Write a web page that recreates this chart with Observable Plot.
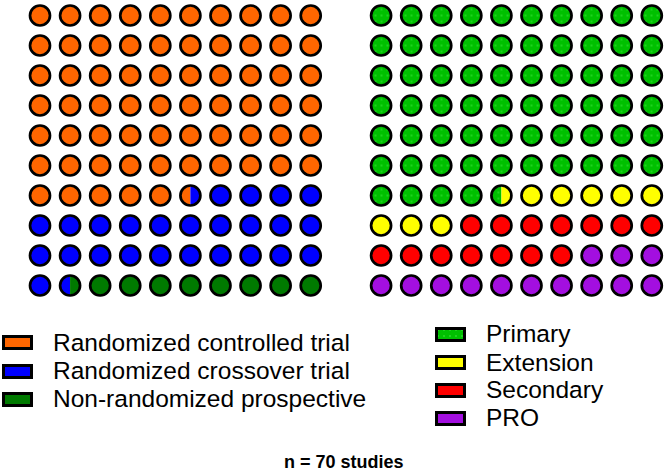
<!DOCTYPE html>
<html><head><meta charset="utf-8">
<script src="https://cdn.jsdelivr.net/npm/d3@7"></script>
<script src="https://cdn.jsdelivr.net/npm/@observablehq/plot@0.6"></script>
<style>
body{margin:0;background:#fff;font-family:"Liberation Sans",Arial,sans-serif;}
#wrap{position:relative;width:666px;height:470px;overflow:hidden;}
#chart{position:absolute;left:0;top:0;}
.sw{position:absolute;box-sizing:border-box;border:3px solid #000;}
.lt{position:absolute;font-size:24.5px;line-height:28px;color:#000;white-space:nowrap;}
#cap{position:absolute;font-weight:bold;font-size:18px;line-height:20px;color:#000;white-space:nowrap;}
</style></head>
<body><div id="wrap"><div id="chart"></div></div>
<script>
// ---- data (percent of 100 waffle cells) ----
const designCategories = ["Randomized controlled trial", "Randomized crossover trial", "Non-randomized prospective"];
const designValues = [65.5, 26, 8.5];
const outcomeCategories = ["Primary", "Extension", "Secondary", "PRO"];
const outcomeValues = [64.5, 8.5, 14, 13];
const captionText = "n = 70 studies";

// ---- styles ----
const designColors = ["#FF6600", "#0000FF", "#007A00"];
const outcomeColors = ["url(#primaryDots)", "#FFFF00", "#FF0000", "#A30FE0"];
const outcomeSwatch = ["url(#primaryDots)", "#FFFF00", "#FF0000", "#A30FE0"];
const gridGap = 11.34; // column offset of second waffle

function buildCells(values, cats, offset) {
  const bounds = []; let cum = 0;
  values.forEach((v, k) => { bounds.push([cum, cum + v, cats[k]]); cum += v; });
  const full = [], halves = [];
  for (let i = 0; i < 100; i++) {
    const over = bounds.filter(([s, e]) => Math.min(e, i + 1) - Math.max(s, i) > 0.01);
    const row = Math.floor(i / 10), col = (i % 10) + offset;
    if (over.length === 1) full.push({row, col, cat: over[0][2]});
    else {
      halves.push({row, col, cat: over[0][2], part: "left"});
      halves.push({row, col, cat: over[over.length - 1][2], part: "right"});
    }
  }
  return {full, halves};
}
const A = buildCells(designValues, designCategories, 0);
const B = buildCells(outcomeValues, outcomeCategories, gridGap);
const full = A.full.concat(B.full);
const halves = A.halves.concat(B.halves);
const rings = halves.filter(d => d.part === "left");

const leftHalf = {draw(ctx, size) { const r = Math.sqrt(size / Math.PI); ctx.moveTo(0, r); ctx.arc(0, 0, r, Math.PI / 2, 3 * Math.PI / 2); ctx.closePath(); }};
const rightHalf = {draw(ctx, size) { const r = Math.sqrt(size / Math.PI); ctx.moveTo(0, -r); ctx.arc(0, 0, r, -Math.PI / 2, Math.PI / 2); ctx.closePath(); }};

const R = 10, SW = 2.7;
const plot = Plot.plot({
  width: 666, height: 300, margin: 0,
  x: {domain: [0, 9 + gridGap], range: [39.5, 651.3], axis: null},
  y: {domain: [0, 9], range: [15, 285], axis: null},
  color: {domain: designCategories.concat(outcomeCategories), range: designColors.concat(outcomeColors)},
  marks: [
    Plot.dot(full, {x: "col", y: "row", r: R, fill: "cat", stroke: "black", strokeWidth: SW}),
    Plot.dot(halves.filter(d => d.part === "left"), {x: "col", y: "row", r: R, fill: "cat", symbol: leftHalf}),
    Plot.dot(halves.filter(d => d.part === "right"), {x: "col", y: "row", r: R, fill: "cat", symbol: rightHalf}),
    Plot.dot(rings, {x: "col", y: "row", r: R, fill: "none", stroke: "black", strokeWidth: SW})
  ]
});
// dotted texture for "Primary"
const ns = "http://www.w3.org/2000/svg";
const defs = document.createElementNS(ns, "defs");
defs.innerHTML = '<pattern id="primaryDots" patternUnits="userSpaceOnUse" width="6" height="6"><rect width="6" height="6" fill="#00C000"/><circle cx="3" cy="3" r="0.9" fill="#2EDC2E"/></pattern>';
plot.insertBefore(defs, plot.firstChild);
document.getElementById("chart").appendChild(plot);

// ---- legends ----
const wrap = document.getElementById("wrap");
function addItem(sx, cy, color, tx, label) {
  let s;
  if (color.startsWith("url")) {
    s = document.createElementNS(ns, "svg");
    s.setAttribute("width", 31); s.setAttribute("height", 15);
    s.style.position = "absolute";
    s.innerHTML = '<defs><pattern id="swDots" patternUnits="userSpaceOnUse" width="6" height="6"><rect width="6" height="6" fill="#00C000"/><circle cx="3" cy="3" r="0.9" fill="#2EDC2E"/></pattern></defs><rect x="1.5" y="1.5" width="28" height="12" fill="url(#swDots)" stroke="#000" stroke-width="3"/>';
  } else {
    s = document.createElement("div"); s.className = "sw";
    s.style.width = "31px"; s.style.height = "15px"; s.style.background = color;
  }
  s.style.left = sx + "px"; s.style.top = (cy - 7.5) + "px";
  wrap.appendChild(s);
  const t = document.createElement("div"); t.className = "lt"; t.textContent = label;
  t.style.left = tx + "px"; t.style.top = (cy - 14) + "px";
  wrap.appendChild(t);
}
const leftY = [342.5, 371, 399];
designCategories.forEach((c, k) => addItem(2, leftY[k], designColors[k], 53, c));
const rightY = [334, 362.5, 390, 418];
outcomeCategories.forEach((c, k) => addItem(435, rightY[k], outcomeSwatch[k], 486, c));
const cap = document.createElement("div"); cap.id = "cap"; cap.textContent = captionText;
cap.style.left = "284px"; cap.style.top = "451.5px";
wrap.appendChild(cap);
</script></body></html>
